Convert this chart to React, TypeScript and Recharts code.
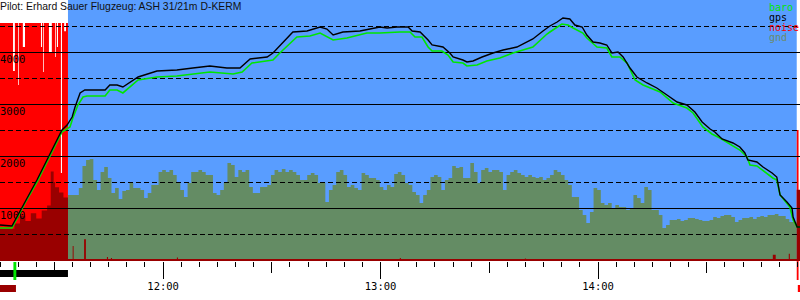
import React from 'react';
import { ComposedChart, Area, Line, XAxis, YAxis, ReferenceLine, ReferenceArea } from 'recharts';

const TITLE = 'Pilot: Erhard Sauer Flugzeug: ASH 31/21m D-KERM';

// times are minutes after midnight, altitudes in metres
const gpsTime = [675, 678.3, 682.2, 685.2, 692.1, 693.5, 694.9, 695.7, 697.1, 698.4, 704.0, 705.3, 707.3, 708.9, 713.1, 718.3, 723.8, 728.2, 732.9, 737.6, 741.2, 744.0, 748.7, 750.3, 755.8, 759.7, 763.3, 765.2, 766.9, 769.6, 774.3, 779.8, 781.8, 784.5, 787.6, 788.7, 790.9, 793.1, 794.2, 797.2, 799.1, 800.0, 802.7, 803.8, 805.5, 808.0, 811.0, 813.8, 817.6, 822.0, 824.8, 826.7, 828.7, 830.3, 832.2, 833.6, 835.6, 836.9, 838.6, 840.5, 842.4, 843.8, 845.5, 846.9, 848.8, 850.7, 853.5, 856.2, 859.0, 861.8, 864.5, 866.7, 868.7, 870.9, 872.2, 874.2, 877.2, 879.1, 880.5, 881.3, 883.8, 885.5, 888.0, 889.3, 890.2, 892.1, 893.5, 893.8, 894.9, 895.7];
const gpsAlt = [673, 654, 1154, 1538, 2500, 2596, 2750, 2942, 3211, 3269, 3269, 3365, 3365, 3327, 3519, 3634, 3654, 3692, 3731, 3692, 3692, 3865, 3904, 3981, 4385, 4404, 4481, 4442, 4327, 4385, 4404, 4481, 4462, 4481, 4481, 4404, 4385, 4231, 4135, 4096, 3981, 3904, 3846, 3808, 3827, 3904, 3981, 4038, 4096, 4250, 4404, 4500, 4577, 4654, 4635, 4519, 4481, 4327, 4192, 4173, 4135, 3981, 4000, 3904, 3692, 3519, 3404, 3308, 3173, 3038, 2981, 2846, 2654, 2519, 2462, 2327, 2250, 2173, 2058, 1923, 1885, 1788, 1673, 1596, 1250, 1115, 1000, 827, 635, 635];

const baroTime = [675, 678.3, 682.2, 685.2, 692.1, 694.3, 695.1, 696.5, 697.9, 699.0, 704.0, 705.3, 707.3, 708.9, 713.1, 718.3, 723.8, 732.9, 739.3, 741.8, 744.5, 750.3, 752.2, 756.9, 760.5, 763.3, 766.9, 770.7, 776.2, 779.8, 785.3, 788.1, 789.5, 791.4, 793.1, 794.2, 796.9, 798.6, 800.0, 802.7, 803.8, 806.6, 809.3, 812.9, 816.5, 822.0, 825.9, 826.7, 830.0, 831.7, 833.1, 835.8, 836.9, 839.7, 842.4, 843.8, 846.0, 848.0, 850.2, 852.4, 857.1, 860.7, 864.5, 866.2, 868.9, 871.4, 873.6, 879.1, 881.1, 881.9, 883.8, 888.2, 889.3, 890.2, 892.9, 893.8, 894.9, 895.7];
const baroAlt = [615, 615, 1135, 1500, 2462, 2558, 2731, 2981, 3135, 3154, 3154, 3269, 3269, 3212, 3462, 3519, 3538, 3615, 3577, 3615, 3788, 3846, 3981, 4288, 4308, 4365, 4231, 4269, 4365, 4365, 4385, 4385, 4288, 4288, 4096, 4019, 4019, 3942, 3808, 3788, 3731, 3750, 3827, 3885, 3981, 4096, 4346, 4385, 4538, 4519, 4462, 4365, 4269, 4096, 4077, 3904, 3904, 3788, 3462, 3365, 3231, 3019, 2923, 2827, 2558, 2423, 2346, 2115, 1981, 1827, 1808, 1577, 1538, 1250, 1019, 769, 635, 635];

// engine noise (loud)
const noiseTime = [675, 678.6, 679.1, 680.0, 680.2, 681.3, 681.9, 686.3, 686.6, 686.9, 687.1, 688.5, 689.3, 690.2, 690.4, 690.7, 691.0, 691.8, 692.1, 692.7, 693.2, 693.75, 894.8, 895.3, 895.7];
const noiseLevel = [4558, 3635, 4558, 3365, 4558, 4096, 4558, 4096, 4558, 3615, 4558, 3981, 4558, 3904, 4558, 4096, 4558, 1673, 4558, 4400, 4558, 0, 2500, 0, 0];

// noise level (low band)
const enlTime = [675, 679, 680.5, 682, 683.5, 685, 686.5, 688, 689, 689.8, 690.2, 691.3, 692.5, 693.75, 695.05, 695.3, 698.2, 698.7, 704.5, 704.8, 705.6, 705.9, 723.8, 724.1, 785.3, 785.6, 819.8, 820.1, 888.2, 889, 892.6, 892.9, 894.8, 895.7];
const enlLevel = [600, 700, 850, 750, 900, 800, 950, 1050, 1700, 1500, 1400, 1300, 1200, 20, 270, 20, 400, 20, 60, 20, 40, 20, 50, 20, 40, 20, 30, 20, 100, 20, 120, 20, 1350, 1350];

// ground elevation, one sample per minute from gndStart
const gndStart = 693.75;
const gndAlt = [
  1250, 1250, 1250, 1385, 1808, 1923, 1942, 1538, 1346, 1692,
  1788, 1577, 1288, 1385, 1173, 1327, 1346, 1481, 1385, 1385,
  1346, 1192, 1288, 1442, 1442, 1692, 1731, 1692, 1731, 1635,
  1481, 1346, 1212, 1481, 1692, 1692, 1731, 1692, 1635, 1635,
  1288, 1250, 1346, 1481, 1865, 1827, 1596, 1731, 1692, 1731,
  1404, 1288, 1288, 1404, 1404, 1442, 1635, 1731, 1692, 1750,
  1692, 1731, 1692, 1635, 1538, 1538, 1635, 1673, 1635, 1481,
  1481, 1115, 1346, 1442, 1692, 1731, 1635, 1404, 1442, 1385,
  1346, 1673, 1635, 1577, 1577, 1538, 1404, 1346, 1442, 1404,
  1654, 1692, 1635, 1481, 1442, 1308, 1250, 1096, 1250, 1346,
  1596, 1635, 1596, 1346, 1538, 1577, 1808, 1769, 1788, 1577,
  1577, 1865, 1692, 1481, 1731, 1769, 1692, 1731, 1731, 1692,
  1346, 1635, 1692, 1731, 1673, 1635, 1596, 1635, 1596, 1577,
  1596, 1538, 1577, 1635, 1731, 1692, 1635, 1538, 1442, 1212,
  1212, 962, 865, 712, 923, 1385, 1346, 1096, 1058, 1096,
  1000, 1058, 1019, 1019, 962, 1000, 1250, 1192, 1096, 1404,
  1346, 962, 962, 865, 615, 673, 769, 769, 788, 750,
  769, 808, 808, 788, 769, 750, 750, 769, 827, 808,
  846, 865, 865, 827, 731, 769, 808, 808, 827, 788,
  827, 846, 827, 865, 865, 885, 846, 846, 788, 731,
  731, 769,
];

const flight = [693.75, 894.8];
const engineRun = [675, 693.75];
const towRelease = [675, 679.4];
const releaseMark = [678.7, 679.5];
const landingMark = [894.8, 895.3];
const landingBar = [895.1, 895.7];

const timeDomain = [675, 895.7];
const minorTicks = Array.from({ length: 45 }, (_, i) => 675 + 5 * i);
const hourTicks = [720, 780, 840];
const hourLabels = ['12:00', '13:00', '14:00'];
const gridSolid = [1000, 2000, 3000, 4000];
const gridDashed = [500, 1500, 2500, 3500, 4500];

const W = 800;
const H = 300;
const AXIS_H = 40;
const Y_MAX = 5000;
const BLUE = '#599dff';
const GREEN = '#00e600';
const RED = '#ff0000';
const DARK_RED = '#990000';
const OLIVE = '#648c64';
const MONO = '"DejaVu Sans Mono", monospace';

const series = [
  { key: 'baro', color: GREEN },
  { key: 'gps', color: '#000000' },
  { key: 'noise', color: RED },
  { key: 'gnd', color: '#6b8b6b' },
];

const pxBelow = (px: number) => -(px * Y_MAX) / (H - AXIS_H);

function buildData() {
  const map = new Map<number, any>();
  const add = (key: string, ts: number[], vs: number[]) => {
    ts.forEach((t, i) => {
      const k = Math.round(t * 1000) / 1000;
      if (!map.has(k)) map.set(k, { t: k });
      map.get(k)[key] = vs[i];
    });
  };
  add('gps', gpsTime, gpsAlt);
  add('baro', baroTime, baroAlt);
  add('noise', noiseTime, noiseLevel);
  add('enl', enlTime, enlLevel);
  const gT = gndAlt.map((_, i) => gndStart + i);
  add('gnd', [...gT, flight[1]], [...gndAlt, gndAlt[gndAlt.length - 1]]);
  return Array.from(map.values()).sort((a, b) => a.t - b.t);
}
const data = buildData();

const XTick = (p: any) => {
  const v = p.payload.value;
  const hi = hourTicks.indexOf(v);
  const len = hi >= 0 ? 19 : v % 30 === 0 ? 13 : 7;
  return (
    <g>
      <line x1={p.x} x2={p.x} y1={p.y + 2} y2={p.y + len} stroke="#000" strokeWidth={1} shapeRendering="crispEdges" />
      {hi >= 0 && (
        <text x={p.x} y={p.y + 30} textAnchor="middle" fontFamily={MONO} fontSize={10.5} fill="#000">
          {hourLabels[hi]}
        </text>
      )}
    </g>
  );
};

const altLabel = (value: number) => (props: any) => {
  const vb = props.viewBox || {};
  return (
    <text x={vb.x ?? 0} y={(vb.y ?? 0) + 11} fontFamily={MONO} fontSize={10.5} fill="#000" textAnchor="start">
      {value}
    </text>
  );
};

const areaCommon = {
  type: 'stepAfter' as const,
  fillOpacity: 1,
  stroke: 'none',
  connectNulls: true,
  dot: false,
  activeDot: false,
  isAnimationActive: false,
};

export default function App() {
  return (
    <div style={{ position: 'absolute', left: 0, top: 0, width: W, height: H }}>
      <ComposedChart width={W} height={H} data={data} margin={{ top: 0, right: 0, bottom: 0, left: 0 }}>
        <XAxis
          dataKey="t"
          type="number"
          domain={timeDomain}
          allowDataOverflow
          ticks={minorTicks}
          interval={0}
          tick={XTick}
          tickLine={false}
          tickSize={0}
          tickMargin={0}
          axisLine={{ stroke: DARK_RED, strokeWidth: 2 }}
          height={AXIS_H}
        />
        <YAxis type="number" domain={[0, Y_MAX]} allowDataOverflow hide width={0} />
        <ReferenceArea x1={flight[0]} x2={flight[1]} y1={0} y2={Y_MAX} fill={BLUE} fillOpacity={1} stroke="none" ifOverflow="hidden" />
        <Area dataKey="noise" fill={RED} {...areaCommon} />
        <Area dataKey="gnd" fill={OLIVE} {...areaCommon} />
        <Area dataKey="enl" fill={DARK_RED} {...areaCommon} />
        {gridSolid.map((v) => (
          <ReferenceLine key={'s' + v} y={v} stroke="#000" strokeWidth={1} shapeRendering="crispEdges" label={altLabel(v)} />
        ))}
        {gridDashed.map((v) => (
          <ReferenceLine key={'d' + v} y={v} stroke="#000" strokeWidth={1} strokeDasharray="5 3" shapeRendering="crispEdges" />
        ))}
        <ReferenceArea x1={engineRun[0]} x2={engineRun[1]} y1={pxBelow(17)} y2={pxBelow(10)} fill="#000" fillOpacity={1} stroke="none" ifOverflow="visible" />
        <ReferenceArea x1={towRelease[0]} x2={towRelease[1]} y1={pxBelow(32)} y2={pxBelow(25)} fill={DARK_RED} fillOpacity={1} stroke="none" ifOverflow="visible" />
        <ReferenceArea x1={releaseMark[0]} x2={releaseMark[1]} y1={pxBelow(20)} y2={pxBelow(2)} fill={GREEN} fillOpacity={1} stroke="none" ifOverflow="visible" />
        <ReferenceArea x1={landingMark[0]} x2={landingMark[1]} y1={pxBelow(20)} y2={pxBelow(1)} fill={RED} fillOpacity={1} stroke="none" ifOverflow="visible" />
        <ReferenceArea x1={landingBar[0]} x2={landingBar[1]} y1={pxBelow(32)} y2={pxBelow(25)} fill={RED} fillOpacity={1} stroke="none" ifOverflow="visible" />
        <Line dataKey="baro" type="linear" stroke={GREEN} strokeWidth={1.6} dot={false} activeDot={false} connectNulls isAnimationActive={false} />
        <Line dataKey="gps" type="linear" stroke="#000" strokeWidth={1.4} dot={false} activeDot={false} connectNulls isAnimationActive={false} />
      </ComposedChart>
      <svg width={W} height={H} style={{ position: 'absolute', left: 0, top: 0, pointerEvents: 'none' }}>
        <text x={0} y={10} fontFamily='"Liberation Sans", Arial, sans-serif' fontSize={10.4} fill="#111">
          {TITLE}
        </text>
        {series.map((s, i) => (
          <text key={s.key} x={769} y={11 + i * 10} fontFamily={MONO} fontSize={10} fill={s.color}>
            {s.key}
          </text>
        ))}
      </svg>
    </div>
  );
}
